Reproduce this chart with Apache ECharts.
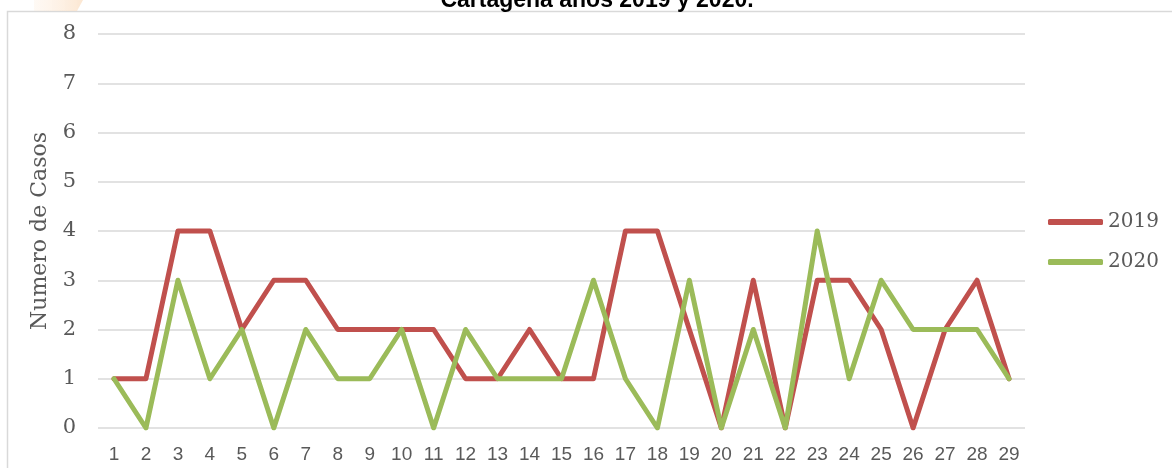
<!DOCTYPE html>
<html>
<head>
<meta charset="utf-8">
<script src="https://cdn.jsdelivr.net/npm/echarts@6/dist/echarts.min.js"></script>
<style>
  html, body { margin: 0; padding: 0; background: #fff; }
  #chart { width: 1172px; height: 468px; }
</style>
</head>
<body>
<div id="chart"></div>
<script>
// Data
const weeks = ['1','2','3','4','5','6','7','8','9','10','11','12','13','14','15','16','17','18','19','20','21','22','23','24','25','26','27','28','29']
const cases2019 = [1,1,4,4,2,3,3,2,2,2,2,1,1,2,1,1,4,4,2,0,3,0,3,3,2,0,2,3,1]
const cases2020 = [1,0,3,1,2,0,2,1,1,2,0,2,1,1,1,3,1,0,3,0,2,0,4,1,3,2,2,2,1]
const titleText = 'Cartagena años 2019 y 2020.'

const serif = '"DejaVu Serif", serif'
const gray = '#595959'

const chart = echarts.init(document.getElementById('chart'))

const option = {
  animation: false,
  graphic: [
    // outer chart border (cut at right/bottom edges)
    {
      type: 'rect',
      shape: { x: 7.5, y: 11.5, width: 1300, height: 600 },
      style: { fill: 'none', stroke: '#d9d9d9', lineWidth: 1.5 }
    },
    // faint orange mark at top left
    {
      type: 'polygon',
      shape: { points: [[34, 0], [83, 0], [77, 11], [34, 11]] },
      style: {
        fill: new echarts.graphic.LinearGradient(0, 0, 1, 0, [
          { offset: 0, color: 'rgba(252,228,204,0.2)' },
          { offset: 1, color: 'rgba(250,215,180,0.6)' }
        ])
      }
    },
    // title, cut at top edge
    {
      type: 'text',
      x: 597,
      y: 1,
      style: {
        text: titleText,
        font: 'bold 23px "Liberation Sans", Arial, sans-serif',
        fill: '#000',
        align: 'center',
        verticalAlign: 'middle'
      }
    }
  ],
  legend: {
    data: ['2019', '2020'],
    orient: 'vertical',
    left: 1043,
    top: 207,
    itemWidth: 55,
    itemHeight: 6,
    itemGap: 20,
    icon: 'roundRect',
    textStyle: { fontFamily: serif, fontSize: 20, color: gray }
  },
  grid: {
    left: 98,
    right: 147,
    top: 34,
    bottom: 40,
    containLabel: false
  },
  xAxis: {
    type: 'category',
    data: weeks,
    boundaryGap: true,
    axisLine: { show: false },
    axisTick: { show: false },
    axisLabel: {
      color: gray,
      fontFamily: '"Liberation Sans Narrow", "Liberation Sans", sans-serif',
      fontSize: 19,
      margin: 17,
      interval: 0
    }
  },
  yAxis: {
    type: 'value',
    min: 0,
    max: 8,
    interval: 1,
    name: 'Numero de Casos',
    nameLocation: 'middle',
    nameGap: 47,
    nameTextStyle: { fontFamily: serif, fontSize: 22, color: gray },
    axisLine: { show: false },
    axisTick: { show: false },
    axisLabel: { color: gray, fontFamily: serif, fontSize: 21, margin: 22 },
    splitLine: { lineStyle: { color: '#d9d9d9', width: 1.5 } }
  },
  series: [
    {
      name: '2019',
      type: 'line',
      data: cases2019,
      symbol: 'none',
      lineStyle: { color: '#c0504d', width: 5, cap: 'round', join: 'round' },
      itemStyle: { color: '#c0504d' }
    },
    {
      name: '2020',
      type: 'line',
      data: cases2020,
      symbol: 'none',
      lineStyle: { color: '#9bbb59', width: 5, cap: 'round', join: 'round' },
      itemStyle: { color: '#9bbb59' }
    }
  ]
}

chart.setOption(option)
</script>
</body>
</html>
